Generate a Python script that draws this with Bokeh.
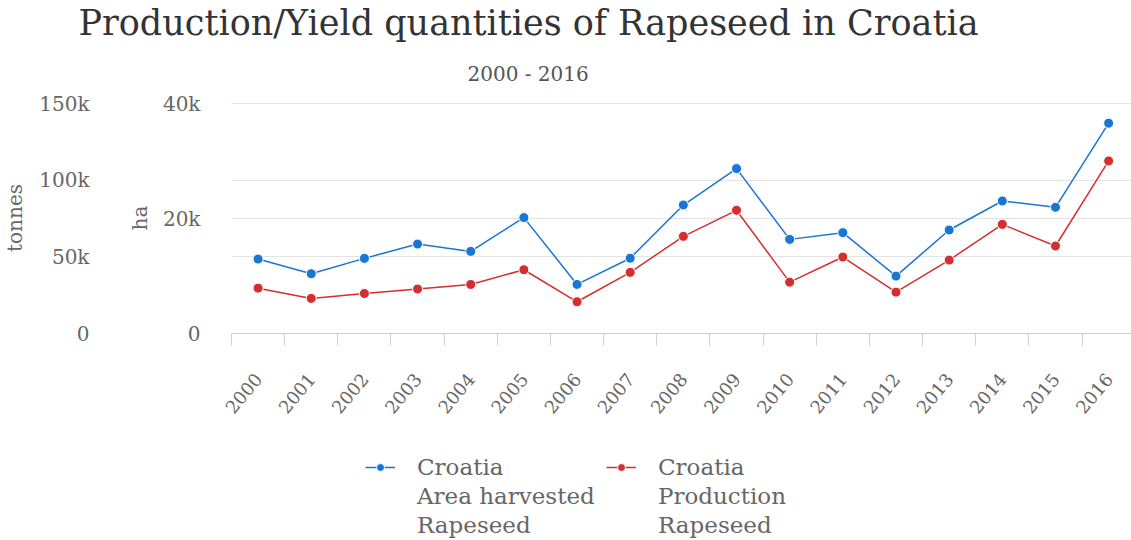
from math import radians
from bokeh.plotting import figure
from bokeh.layouts import column
from bokeh.models import (Range1d, LinearAxis, FixedTicker, Grid, Legend,
                          LegendItem, Title)
from bokeh.embed import file_html
from bokeh.resources import INLINE

# ---- data ----
years = list(range(2000, 2017))
area_ha = [12950, 10400, 13070, 15560, 14290, 20170, 8540, 13100, 22360,
           28700, 16380, 17550, 9990, 18010, 23060, 21960, 36600]
production_t = [29600, 22900, 26100, 29000, 32000, 41600, 20700, 39900, 63400,
                80400, 33500, 49900, 27000, 47900, 71200, 57100, 112600]
ha_ticks = [0, 20000, 40000]
ha_tick_labels = ["0", "20k", "40k"]
t_ticks = [0, 50000, 100000, 150000]
t_tick_labels = ["0", "50k", "100k", "150k"]
year_bounds = [y - 0.5 for y in years] + [years[-1] + 0.5]

title_text = "Production/Yield quantities of Rapeseed in Croatia"
subtitle_text = "2000 - 2016"
area_label_lines = ["Croatia", "Area harvested", "Rapeseed"]
prod_label_lines = ["Croatia", "Production", "Rapeseed"]

BLUE = "#1976D2"
RED = "#D32F2F"
FONT = "DejaVu Serif"
TICK_COLOR = "#666666"
GRID = "#e3e3e3"

HA_TOP = 40200
T_TOP = 150000 * HA_TOP / 40000
X_END = 2016.43   # the reference crops the last category slightly

p = figure(frame_width=900, frame_height=231, output_backend="svg",
           toolbar_location=None,
           x_range=Range1d(year_bounds[0], X_END),
           y_range=Range1d(0, HA_TOP),
           min_border_left=223, min_border_right=0, min_border_top=0,
           min_border_bottom=0)
p.extra_y_ranges = {"tonnes": Range1d(0, T_TOP)}
p.outline_line_color = None
p.background_fill_color = "white"
p.border_fill_color = "white"

# inner (ha) axis
ya = p.yaxis[0]
ya.ticker = FixedTicker(ticks=ha_ticks)
ya.major_label_overrides = {t: l for t, l in zip(ha_ticks, ha_tick_labels)}
ya.axis_label = "ha"

# outer (tonnes) axis
ta = LinearAxis(y_range_name="tonnes", axis_label="tonnes",
                ticker=FixedTicker(ticks=t_ticks))
ta.major_label_overrides = {t: l for t, l in zip(t_ticks, t_tick_labels)}
p.add_layout(ta, "left")

for ax, standoff, lstand in ((ya, 31, 8), (ta, 35, 9)):
    ax.axis_line_color = None
    ax.major_tick_line_color = None
    ax.minor_tick_line_color = None
    ax.major_tick_out = 0
    ax.major_tick_in = 0
    ax.major_label_standoff = standoff
    ax.major_label_text_font = FONT
    ax.major_label_text_font_size = "20px"
    ax.major_label_text_color = TICK_COLOR
    ax.axis_label_standoff = lstand
    ax.axis_label_text_font = FONT
    ax.axis_label_text_font_size = "20px"
    ax.axis_label_text_font_style = "normal"
    ax.axis_label_text_color = TICK_COLOR

# x axis
xa = p.xaxis[0]
xa.ticker = FixedTicker(ticks=years, minor_ticks=year_bounds)
xa.major_tick_line_color = None
xa.major_tick_out = 0
xa.major_tick_in = 0
xa.minor_tick_line_color = "#d0d0d0"
xa.minor_tick_out = 12
xa.minor_tick_in = 0
xa.axis_line_color = "#d0d0d0"
xa.major_label_orientation = radians(50)
xa.major_label_standoff = 30
xa.major_label_text_font = FONT
xa.major_label_text_font_size = "18px"
xa.major_label_text_color = TICK_COLOR

# grids
p.xgrid.visible = False
p.ygrid.ticker = FixedTicker(ticks=ha_ticks)
p.ygrid.grid_line_color = GRID
tgrid = Grid(dimension=1, ticker=FixedTicker(ticks=t_ticks), y_range_name="tonnes",
             grid_line_color=GRID)
p.add_layout(tgrid)

# series
l1 = p.line(years, area_ha, line_color=BLUE, line_width=1.5)
s1 = p.scatter(years, area_ha, size=10, fill_color=BLUE, line_color="white",
               line_width=1)
l2 = p.line(years, production_t, line_color=RED, line_width=1.5,
            y_range_name="tonnes")
s2 = p.scatter(years, production_t, size=10, fill_color=RED, line_color="white",
               line_width=1, y_range_name="tonnes")

# titles (first added sits closest to the frame)
p.add_layout(Title(text=subtitle_text, align="left", offset=236,
                   text_font=FONT, text_font_size="20px", text_font_style="normal",
                   text_color="#555555", standoff=34), "above")
p.add_layout(Title(text=title_text, align="left", offset=-153,
                   text_font=FONT, text_font_size="35px", text_font_style="normal",
                   text_color="#333333", standoff=0), "above")

# legend strip below the chart (its frame aligns with the chart's frame)
p2 = figure(width=1123, height=118, output_backend="svg", toolbar_location=None,
            x_axis_type=None, y_axis_type=None,
            x_range=Range1d(0, 1), y_range=Range1d(0, 1),
            min_border_left=0, min_border_right=0, min_border_top=0,
            min_border_bottom=0)
p2.outline_line_color = None
# key renderers reuse the series data; the strip's ranges keep them out of view
k1 = p2.line(years, area_ha, line_color=BLUE, line_width=1.5)
k1s = p2.scatter(years, area_ha, size=10, fill_color=BLUE, line_color="white", line_width=1)
k2 = p2.line(years, production_t, line_color=RED, line_width=1.5)
k2s = p2.scatter(years, production_t, size=10, fill_color=RED, line_color="white", line_width=1)
blank = p2.scatter(years, area_ha, size=1, fill_alpha=0, line_alpha=0)


def make_legend(lines, rends, x):
    items = [LegendItem(label=lines[0], renderers=rends)]
    items += [LegendItem(label=t, renderers=[blank]) for t in lines[1:]]
    return Legend(items=items, orientation="vertical", location=(x, 1),
                  label_text_font=FONT, label_text_font_size="23px",
                  label_text_color=TICK_COLOR, label_height=29, glyph_height=20,
                  glyph_width=30, label_standoff=22, spacing=0,
                  padding=0, margin=0,
                  border_line_color=None, background_fill_alpha=0)


p2.add_layout(make_legend(area_label_lines, [k1, k1s], 134), "center")
p2.add_layout(make_legend(prod_label_lines, [k2, k2s], 375), "center")

open("out.html", "w").write(file_html(column(p, p2, spacing=0), INLINE))
